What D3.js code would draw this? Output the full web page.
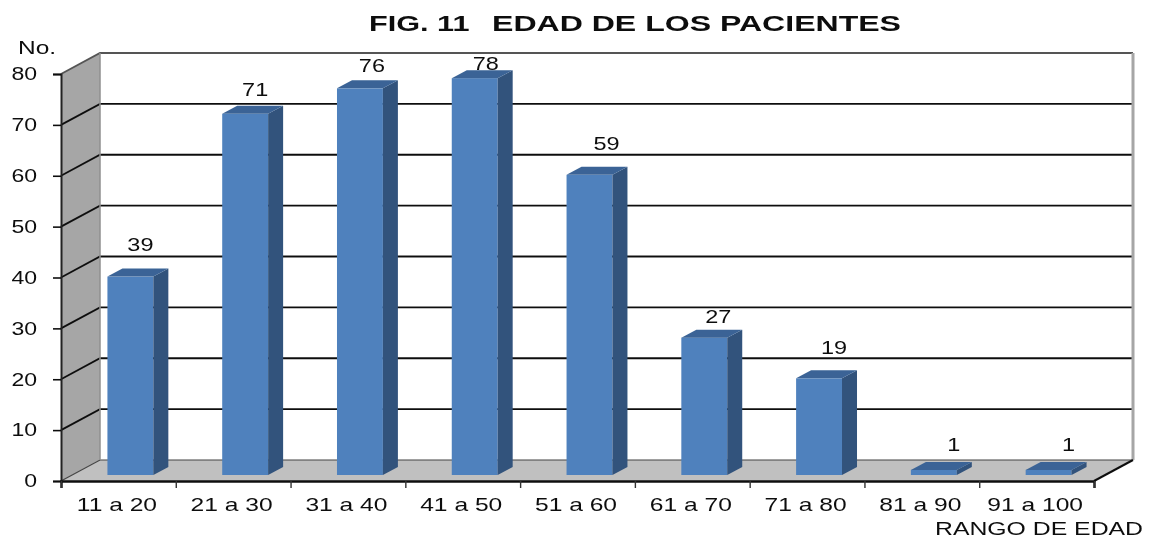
<!DOCTYPE html>
<html>
<head>
<meta charset="utf-8">
<script src="https://cdn.jsdelivr.net/npm/d3@7"></script>
<style>
html, body { margin: 0; padding: 0; background: #fff; }
svg { display: block; }
text { font-family: "Liberation Sans", Arial, sans-serif; fill: #111; }
</style>
</head>
<body>
<div id="chartdiv"></div>
<script>
var categories = ['11 a 20', '21 a 30', '31 a 40', '41 a 50', '51 a 60', '61 a 70', '71 a 80', '81 a 90', '91 a 100'];
var pacientes = [39, 71, 76, 78, 59, 27, 19, 1, 1];
var yTicks = [0, 10, 20, 30, 40, 50, 60, 70, 80];

// hand placed labels in the original, offset from the bar's front top centre
var labelDx = [10, 10, 12, 11, 17, 14, 15, 20, 20];
var labelDy = [-26, -18, -16, -8, -25, -15, -24, -19, -19];

var corewidth = 1149, coreheight = 538;
var left = 61, right = 1094, top80 = 74, bottom = 481;
var depthX = 39, depthY = -21;      // wall depth
var barDepthX = 15, barDepthY = -8; // bar depth
var barInsetX = 12, barInsetY = -6; // bar sits inside the floor

var xScale = d3.scaleBand().domain(categories).range([left, right]).paddingInner(0.6).paddingOuter(0.3);
var xTicks = d3.scaleLinear().domain([0, categories.length]).range([left, right]);
var yScale = d3.scaleLinear().domain([0, 80]).range([bottom, top80]);

var svg = d3.select('#chartdiv')
 .append('svg')
 .attr('width', corewidth)
 .attr('height', coreheight)
 .attr('viewBox', '0 0 ' + corewidth + ' ' + coreheight);

var defs = svg.append('defs');
defs.append('filter').attr('id', 'soft')
 .append('feGaussianBlur').attr('stdDeviation', 0.45);

var chart = svg.append('g').attr('filter', 'url(#soft)');

// the source is stretched sideways, so text is widened to match
function widen(sel, k) {
 sel.each(function () {
  var w = this.getComputedTextLength();
  d3.select(this).attr('textLength', w * k).attr('lengthAdjust', 'spacingAndGlyphs');
 });
}

function poly(g, pts, fill) {
 return g.append('polygon')
  .attr('points', pts.map(function (p) { return p.join(','); }).join(' '))
  .attr('fill', fill);
}

// walls and floor
var walls = chart.append('g').attr('class', 'walls');
poly(walls, [[left, yScale(80)], [left + depthX, yScale(80) + depthY], [left + depthX, yScale(0) + depthY], [left, yScale(0)]], '#a6a6a6');
poly(walls, [[left, yScale(0)], [left + depthX, yScale(0) + depthY], [right + depthX, yScale(0) + depthY], [right, yScale(0)]], '#c0c0c0');

// gridlines, running up the side wall and along the back
yTicks.forEach(function (t) {
 var y = yScale(t);
 var isFloor = t === 0, isTop = t === 80;
 walls.append('polyline')
  .attr('points', [[left, y], [left + depthX, y + depthY], [right + depthX, y + depthY]].map(String).join(' '))
  .attr('fill', 'none')
  .attr('stroke', isTop ? '#555' : (isFloor ? '#444' : '#111'))
  .attr('stroke-width', isFloor ? 1.2 : 1.8);
});

walls.append('line')
 .attr('x1', left + depthX).attr('x2', left + depthX)
 .attr('y1', yScale(80) + depthY).attr('y2', yScale(0) + depthY)
 .attr('stroke', '#8f8f8f').attr('stroke-width', 1.5);
walls.append('line')
 .attr('x1', right + depthX).attr('x2', right + depthX)
 .attr('y1', yScale(80) + depthY).attr('y2', yScale(0) + depthY)
 .attr('stroke', '#a6a6a6').attr('stroke-width', 3);
walls.append('line')
 .attr('x1', right).attr('x2', right + depthX)
 .attr('y1', yScale(0)).attr('y2', yScale(0) + depthY)
 .attr('stroke', '#111').attr('stroke-width', 2);

// bars
var bars = chart.append('g').attr('class', 'bars')
 .selectAll('g')
 .data(pacientes)
 .enter().append('g')
 .attr('transform', 'translate(' + barInsetX + ',' + barInsetY + ')');

var bw = xScale.bandwidth();
function cat(i) { return xScale(categories[i]); }

bars.append('rect')
 .attr('x', function (d, i) { return cat(i); })
 .attr('y', function (d) { return yScale(d); })
 .attr('width', bw)
 .attr('height', function (d) { return yScale(0) - yScale(d); })
 .attr('fill', '#4f81bd');

bars.append('polygon')
 .attr('fill', '#31527c')
 .attr('points', function (d, i) {
  var x = cat(i) + bw;
  return [[x, yScale(d)], [x + barDepthX, yScale(d) + barDepthY], [x + barDepthX, yScale(0) + barDepthY], [x, yScale(0)]].map(String).join(' ');
 });

bars.append('polygon')
 .attr('fill', '#3b6496')
 .attr('points', function (d, i) {
  var x = cat(i), y = yScale(d);
  return [[x, y], [x + barDepthX, y + barDepthY], [x + bw + barDepthX, y + barDepthY], [x + bw, y]].map(String).join(' ');
 });

// axes
var yAxis = chart.append('g')
 .attr('class', 'y axis')
 .attr('transform', 'translate(' + left + ',0)')
 .call(d3.axisLeft(yScale).tickValues(yTicks).tickSize(8).tickPadding(16));
yAxis.selectAll('line').attr('stroke', '#111').attr('stroke-width', 1.6);
yAxis.select('.domain').attr('stroke', '#222').attr('stroke-width', 2);
yAxis.selectAll('text').attr('font-size', '18px').attr('font-family', null).call(widen, 1.28);

var xAxis = chart.append('g')
 .attr('class', 'x axis')
 .attr('transform', 'translate(0,' + bottom + ')')
 .call(d3.axisBottom(xTicks).ticks(categories.length).tickSize(7).tickFormat(''));
xAxis.selectAll('line').attr('stroke', '#333').attr('stroke-width', 1.4);
xAxis.select('.domain').attr('stroke', '#111').attr('stroke-width', 2.4);

var xLabels = chart.append('g')
 .attr('class', 'x labels')
 .attr('transform', 'translate(-1.5,' + bottom + ')')
 .call(d3.axisBottom(xScale).tickSize(0).tickPadding(16.5));
xLabels.select('.domain').remove();
xLabels.selectAll('text').attr('font-size', '18.5px').attr('font-family', null).call(widen, 1.33);

// value labels
chart.append('g').attr('class', 'values')
 .selectAll('text')
 .data(pacientes)
 .enter().append('text')
 .attr('x', function (d, i) { return cat(i) + bw / 2 + barInsetX + labelDx[i]; })
 .attr('y', function (d, i) { return yScale(d) + barInsetY + labelDy[i]; })
 .attr('text-anchor', 'middle')
 .attr('font-size', '18.5px')
 .text(function (d) { return d; })
 .call(widen, 1.27);

// title has a wide gap after the figure number
var title = chart.append('text')
 .attr('y', 31)
 .attr('font-size', '22.3px')
 .attr('font-weight', 'bold');
title.append('tspan')
 .attr('x', 369)
 .attr('textLength', 109)
 .attr('lengthAdjust', 'spacingAndGlyphs')
 .text('FIG. 11 ');
title.append('tspan')
 .attr('x', 492)
 .attr('textLength', 409)
 .attr('lengthAdjust', 'spacingAndGlyphs')
 .text('EDAD DE LOS PACIENTES');

chart.append('text')
 .attr('x', 18).attr('y', 54)
 .attr('font-size', '18px')
 .text('No.')
 .call(widen, 1.36);

chart.append('text')
 .attr('x', 935).attr('y', 535)
 .attr('font-size', '18px')
 .text('RANGO DE EDAD')
 .attr('textLength', 208)
 .attr('lengthAdjust', 'spacingAndGlyphs');
</script>
</body>
</html>
